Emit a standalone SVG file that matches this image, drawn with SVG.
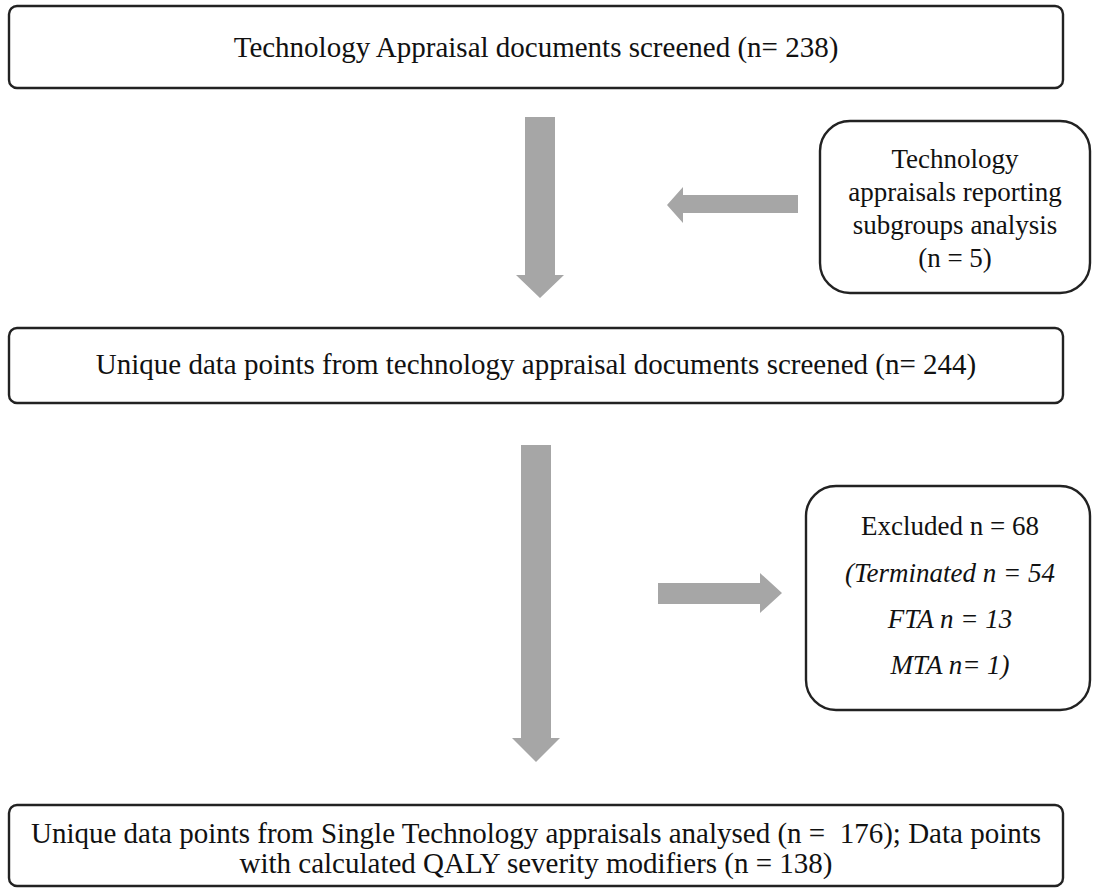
<svg xmlns="http://www.w3.org/2000/svg" width="1094" height="888" viewBox="0 0 1094 888">
<style>
.box{fill:#fff;stroke:#222;stroke-width:2.4}
text{font-family:'Liberation Serif','Times New Roman',serif;fill:#111;text-anchor:middle}
.t{font-size:29px}
.s{font-size:27px}
.i{font-style:italic}
.arr{fill:#a6a6a6}
</style>
<rect width="1094" height="888" fill="#fff"/>
<g id="connectors">
<polygon class="arr" points="525,117 555,117 555,275 564,275 540,298 516,275 525,275"/>
<polygon class="arr" points="798,195 798,213 683,213 683,223 667,205 683,187 683,195"/>
<polygon class="arr" points="658,583 760,583 760,573 782,593 760,613 760,604 658,604"/>
<polygon class="arr" points="521,445 551,445 551,738 560,738 536,762 512,738 521,738"/>
</g>
<g id="screened">
<rect class="box" x="9" y="6" width="1054" height="82" rx="8"/>
<text class="t" x="536" y="57">Technology Appraisal documents screened (n= 238)</text>
</g>
<g id="subgroups">
<rect class="box" x="820" y="121" width="270" height="172" rx="30"/>
<text class="s" x="955" y="168">Technology</text>
<text class="s" x="955" y="201">appraisals reporting</text>
<text class="s" x="955" y="234">subgroups analysis</text>
<text class="s" x="955" y="267">(n = 5)</text>
</g>
<g id="unique">
<rect class="box" x="9" y="328" width="1054" height="75" rx="8"/>
<text class="t" x="536" y="374">Unique data points from technology appraisal documents screened (n= 244)</text>
</g>
<g id="excluded">
<rect class="box" x="806" y="486" width="284" height="224" rx="30"/>
<text class="s" x="950" y="535">Excluded n = 68</text>
<text class="s i" x="950" y="582">(Terminated n = 54</text>
<text class="s i" x="950" y="628">FTA n = 13</text>
<text class="s i" x="950" y="674">MTA n= 1)</text>
</g>
<g id="analysed">
<rect class="box" x="9" y="805" width="1054" height="81" rx="8"/>
<text class="t" x="536" y="843">Unique data points from Single Technology appraisals analysed (n =&#160; 176); Data points</text>
<text class="t" x="536" y="873">with calculated QALY severity modifiers (n = 138)</text>
</g>
</svg>
